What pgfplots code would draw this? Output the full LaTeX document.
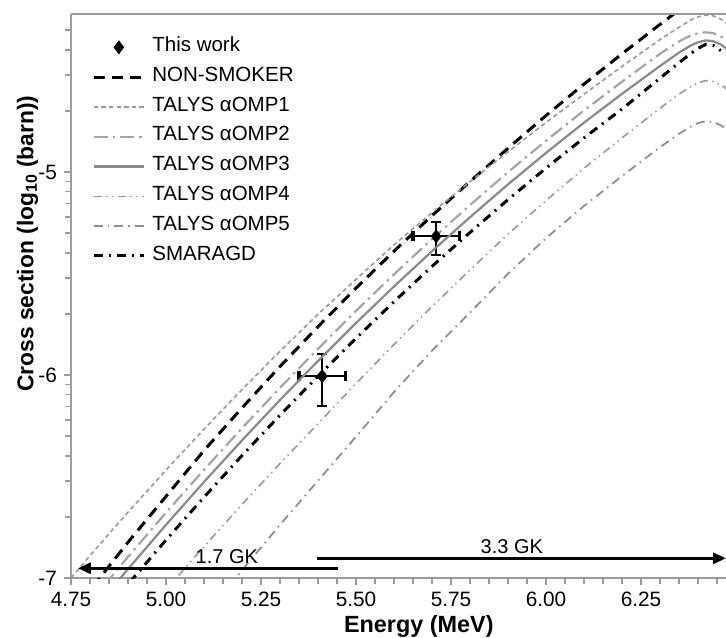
\documentclass[border=0pt]{standalone}
\usepackage{pgfplots}
\pgfplotsset{compat=1.18}
\usepackage{fontspec}
\setmainfont{Liberation Sans}
\usetikzlibrary{arrows.meta}
\definecolor{axgray}{HTML}{9B9B9B}
\definecolor{g1}{HTML}{9A9A9A}
\definecolor{g2}{HTML}{A5A5A5}
\definecolor{g3}{HTML}{8A8A8A}
\definecolor{g4}{HTML}{9A9A9A}
\definecolor{g5}{HTML}{8F8F8F}
\begin{document}
\begin{tikzpicture}
\begin{axis}[
  scale only axis, width=327.5pt, height=282pt,
  xmin=4.75, xmax=6.4737, ymin=-7, ymax=-4.2218,
  axis x line*=bottom, axis y line*=left,
  axis line style={axgray, line width=1pt},
  tick style={axgray, line width=0.8pt},
  tick align=outside,
  major tick length=3.5pt, minor tick length=2.8pt,
  xtick={4.75,5,5.25,5.5,5.75,6,6.25},
  xticklabels={4.75,5.00,5.25,5.50,5.75,6.00,6.25},
  minor xtick={4.8,4.85,4.9,4.95,5.05,5.1,5.15,5.2,5.3,5.35,5.4,5.45,5.55,5.6,5.65,5.7,5.8,5.85,5.9,5.95,6.05,6.1,6.15,6.2,6.3,6.35,6.4,6.45},
  ytick={-7,-6,-5}, yticklabels={-7,-6,-5},
  minor ytick={-6.699,-6.523,-6.398,-6.301,-6.222,-6.155,-6.097,-6.046,-5.699,-5.523,-5.398,-5.301,-5.222,-5.155,-5.097,-5.046,-4.699,-4.523,-4.398,-4.301},
  tick label style={font=\fontsize{10.4}{12}\selectfont, black},
  xlabel={Energy (MeV)},
  ylabel={Cross section (log\textsubscript{10} (barn))},
  xlabel style={at={(axis description cs:0.531,-0.0975)}, anchor=base, font=\fontsize{11.7}{14}\selectfont\bfseries},
  ylabel style={at={(axis description cs:-0.0664,0.593)}, anchor=center, font=\fontsize{11.4}{14}\selectfont\bfseries},
  legend image code/.code={\draw[mark repeat=2,mark phase=2,#1] plot coordinates {(0pt,0pt) (12.5pt,0pt) (25pt,0pt)};},
  legend cell align=left,
  legend style={at={(axis description cs:0.032,0.968)}, anchor=north west, draw=none, fill=none,
    font=\fontsize{10.25}{12}\selectfont, inner sep=0pt, row sep=0pt,
    nodes={inner sep=0pt, text height=9.5pt, text depth=5.4pt},
    /tikz/every odd column/.append style={column sep=3.5pt}},
]
\coordinate (SW) at (rel axis cs:0,0);
\coordinate (NE) at (rel axis cs:1,1);

% horizontal (energy) error bars, heavier caps
\addplot[forget plot, only marks, mark=none, black,
  error bars/.cd, x dir=both, x explicit,
  error bar style={line width=1pt, black},
  error mark options={rotate=90, mark size=2.5pt, line width=1.8pt, black}]
  coordinates {
  (5.411,-6.006) +- (0.061,0)
  (5.711,-5.317) +- (0.061,0)
  };
\addplot[only marks, mark=diamond*, mark size=3.2pt, black,
  error bars/.cd, y dir=both, y explicit,
  error bar style={line width=1.2pt, black},
  error mark options={rotate=90, mark size=2.5pt, line width=1pt, black}]
  coordinates {
  (5.411,-6.006) += (0,0.111) -= (0,0.148)
  (5.711,-5.317) += (0,0.072) -= (0,0.092)
  };
\addlegendentry{This work}

% NON-SMOKER
\addplot[black, line width=1.5pt, dash pattern=on 5.5pt off 3.5pt] table {
4.75 -7.184
4.80 -7.063
4.85 -6.942
4.90 -6.824
5.00 -6.598
5.10 -6.372
5.20 -6.162
5.30 -5.958
5.40 -5.762
5.50 -5.572
5.60 -5.390
5.70 -5.215
5.80 -5.047
5.90 -4.883
6.00 -4.722
6.10 -4.567
6.20 -4.418
6.30 -4.273
6.35 -4.202
6.38 -4.168
6.40 -4.151
6.42 -4.142
6.44 -4.146
6.46 -4.162
6.48 -4.190
};
\addlegendentry{NON-SMOKER}

% TALYS aOMP1
\addplot[g1, line width=0.8pt, dash pattern=on 2.2pt off 1.6pt] table {
4.75 -7.000
4.80 -6.890
4.85 -6.782
4.90 -6.676
5.00 -6.468
5.10 -6.267
5.20 -6.072
5.30 -5.883
5.40 -5.701
5.50 -5.529
5.60 -5.359
5.70 -5.200
5.80 -5.048
5.90 -4.901
6.00 -4.756
6.10 -4.617
6.20 -4.480
6.30 -4.348
6.35 -4.287
6.38 -4.253
6.40 -4.236
6.42 -4.227
6.44 -4.231
6.46 -4.247
6.48 -4.275
};
\addlegendentry{TALYS αOMP1}

% TALYS aOMP2
\addplot[g2, line width=1.1pt, dash pattern=on 7pt off 2.5pt on 1.2pt off 2.5pt] table {
4.75 -7.234
4.80 -7.120
4.85 -7.007
4.90 -6.896
5.00 -6.678
5.10 -6.467
5.20 -6.262
5.30 -6.063
5.40 -5.871
5.50 -5.684
5.60 -5.504
5.70 -5.330
5.80 -5.163
5.90 -5.001
6.00 -4.846
6.10 -4.697
6.20 -4.555
6.30 -4.418
6.35 -4.357
6.38 -4.328
6.40 -4.316
6.42 -4.312
6.44 -4.316
6.46 -4.332
6.48 -4.360
};
\addlegendentry{TALYS αOMP2}

% TALYS aOMP3
\addplot[g3, line width=1.1pt] table {
4.75 -7.294
4.80 -7.180
4.85 -7.067
4.90 -6.956
5.00 -6.738
5.10 -6.527
5.20 -6.322
5.30 -6.123
5.40 -5.931
5.50 -5.744
5.60 -5.564
5.70 -5.390
5.80 -5.223
5.90 -5.061
6.00 -4.906
6.10 -4.757
6.20 -4.615
6.30 -4.478
6.35 -4.412
6.38 -4.378
6.40 -4.361
6.42 -4.352
6.44 -4.356
6.46 -4.372
6.48 -4.400
};
\addlegendentry{TALYS αOMP3}

% TALYS aOMP4
\addplot[g4, line width=0.8pt, dash pattern=on 4pt off 2.2pt on 0.7pt off 2.2pt on 0.7pt off 2.2pt] table {
4.95 -7.166
5.00 -7.058
5.10 -6.845
5.20 -6.638
5.30 -6.436
5.40 -6.240
5.50 -6.042
5.60 -5.850
5.70 -5.663
5.80 -5.483
5.90 -5.306
6.00 -5.141
6.10 -4.982
6.20 -4.832
6.30 -4.686
6.35 -4.617
6.38 -4.580
6.40 -4.561
6.42 -4.550
6.44 -4.554
6.46 -4.570
6.48 -4.598
};
\addlegendentry{TALYS αOMP4}

% TALYS aOMP5
\addplot[g5, line width=0.9pt, dash pattern=on 4.5pt off 2.5pt on 0.8pt off 2.5pt] table {
5.10 -7.197
5.20 -6.962
5.30 -6.738
5.40 -6.521
5.50 -6.304
5.60 -6.084
5.70 -5.880
5.80 -5.693
5.90 -5.501
6.00 -5.326
6.10 -5.167
6.20 -5.020
6.30 -4.878
6.35 -4.812
6.38 -4.778
6.40 -4.759
6.42 -4.750
6.44 -4.754
6.46 -4.770
6.48 -4.798
};
\addlegendentry{TALYS αOMP5}

% SMARAGD
\addplot[black, line width=1.5pt, dash pattern=on 4.5pt off 3pt on 1pt off 3pt] table {
4.75 -7.369
4.80 -7.255
4.85 -7.142
4.90 -7.031
5.00 -6.813
5.10 -6.602
5.20 -6.397
5.30 -6.198
5.40 -6.006
5.50 -5.819
5.60 -5.639
5.70 -5.465
5.80 -5.298
5.90 -5.136
6.00 -4.981
6.10 -4.832
6.20 -4.690
6.30 -4.538
6.35 -4.462
6.38 -4.418
6.40 -4.391
6.42 -4.372
6.44 -4.376
6.46 -4.402
};
\addlegendentry{SMARAGD}

% temperature windows
\draw[line width=1.5pt, -{Triangle[length=6.5pt,width=5.5pt]}] (axis cs:5.453,-6.952) -- (axis cs:4.768,-6.952);
\node[font=\fontsize{10}{12}\selectfont] at (axis cs:5.160,-6.895) {1.7 GK};
\draw[line width=1.5pt, -{Triangle[length=6.5pt,width=5.5pt]}] (axis cs:5.397,-6.903) -- (axis cs:6.4737,-6.903);
\node[font=\fontsize{10}{12}\selectfont] at (axis cs:5.910,-6.846) {3.3 GK};
\end{axis}
\draw[axgray, line width=1pt] (SW |- NE) -- (NE);
\pgfresetboundingbox
\path[use as bounding box] ([xshift=-35.5pt,yshift=-29.5pt]SW) rectangle ([yshift=7pt]NE);
\end{tikzpicture}
\end{document}
